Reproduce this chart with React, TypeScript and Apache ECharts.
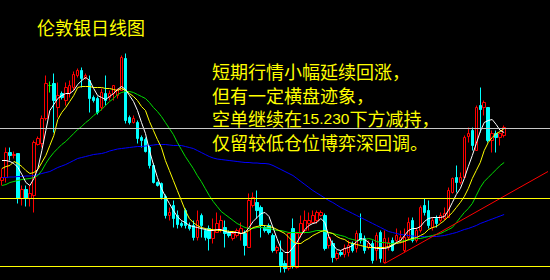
import React, { useEffect, useRef } from "react";
import * as echarts from "echarts";

// Daily silver (London) candles, oldest first: open, close, low, high
const opens = [
  14.71, 14.74, 14.99, 14.96, 14.98, 14.53, 14.62, 14.53, 14.56, 15.07,
  15.08, 15.33, 15.66, 15.68, 15.44, 15.58, 15.51, 15.58, 15.64, 15.76,
  15.81, 15.74, 15.71, 15.54, 15.53, 15.44, 15.58, 15.54, 15.58, 15.56,
  15.61, 15.93, 15.34, 15.29, 15.29, 15.14, 15.12, 15.04, 14.86, 14.69,
  14.68, 14.55, 14.36, 14.46, 14.36, 14.28, 14.41, 14.26, 14.26, 14.14,
  14.36, 14.21, 14.23, 14.13, 14.19, 14.21, 14.24, 14.19, 14.13, 14.16,
  14.18, 14.18, 14.04, 14.46, 14.49, 14.44, 14.24, 14.26, 14.16, 14.01,
  13.99, 13.88, 13.83, 14.23, 13.84, 14.18, 14.21, 14.28, 14.29, 14.31,
  14.36, 14.36, 14.06, 14.08, 13.93, 13.99, 13.97, 13.99, 14.08, 14.03,
  14.18, 14.13, 14.04, 14.08, 14.01, 14.19, 13.89, 14.04, 14.11, 14.11,
  14.11, 14.01, 14.14, 14.31, 14.11, 14.21, 14.46, 14.41, 14.24, 14.33,
  14.31, 14.33, 14.34, 14.59, 14.74, 14.69, 14.74, 15.15, 15.21, 15.01,
  15.46, 15.44, 15.44, 15.11, 15.18, 15.14, 15.16,
];
const closes = [
  14.74, 14.99, 14.96, 14.97, 14.53, 14.62, 14.53, 14.58, 15.09, 15.13,
  15.33, 15.68, 15.66, 15.51, 15.56, 15.54, 15.64, 15.66, 15.77, 15.81,
  15.73, 15.76, 15.53, 15.51, 15.39, 15.59, 15.51, 15.58, 15.66, 15.62,
  15.94, 15.31, 15.29, 15.33, 15.13, 15.11, 15.0, 14.86, 14.69, 14.66,
  14.54, 14.36, 14.39, 14.33, 14.27, 14.26, 14.26, 14.23, 14.14, 14.31,
  14.26, 14.14, 14.13, 14.21, 14.28, 14.31, 14.18, 14.16, 14.18, 14.21,
  14.23, 14.06, 14.51, 14.54, 14.41, 14.26, 14.21, 14.19, 14.01, 14.04,
  13.86, 13.83, 14.18, 13.86, 14.18, 14.28, 14.31, 14.31, 14.36, 14.39,
  14.39, 14.03, 14.14, 13.94, 13.98, 13.97, 14.03, 14.06, 14.01, 14.18,
  14.11, 14.01, 14.08, 13.91, 14.16, 13.93, 14.13, 14.09, 14.01, 14.16,
  14.14, 14.14, 14.29, 14.11, 14.21, 14.44, 14.39, 14.26, 14.31, 14.28,
  14.36, 14.38, 14.61, 14.73, 14.69, 14.74, 15.14, 15.18, 15.06, 15.44,
  15.42, 15.49, 15.11, 15.18, 15.14, 15.18, 15.24,
];
const lows = [
  14.66, 14.69, 14.91, 14.93, 14.48, 14.46, 14.45, 14.45, 14.39, 15.06,
  15.04, 15.31, 15.59, 15.19, 15.34, 15.52, 15.46, 15.54, 15.61, 15.74,
  15.64, 15.72, 15.39, 15.49, 15.37, 15.41, 15.46, 15.51, 15.51, 15.53,
  15.61, 15.28, 15.27, 15.28, 15.08, 15.04, 14.99, 14.83, 14.68, 14.65,
  14.52, 14.33, 14.31, 14.24, 14.23, 14.24, 14.23, 14.21, 14.11, 14.11,
  14.14, 14.11, 14.01, 14.08, 14.19, 14.19, 14.04, 14.14, 14.11, 14.14,
  14.11, 13.96, 14.04, 14.44, 14.33, 14.14, 14.19, 14.17, 13.99, 13.98,
  13.79, 13.79, 13.81, 13.83, 13.83, 14.14, 14.18, 14.21, 14.28, 14.28,
  14.35, 14.01, 14.03, 13.89, 13.91, 13.95, 13.94, 13.95, 13.99, 13.99,
  14.08, 13.98, 14.02, 13.88, 13.91, 13.89, 13.88, 14.01, 14.0, 14.08,
  14.08, 13.99, 14.11, 14.09, 14.09, 14.19, 14.36, 14.23, 14.21, 14.24,
  14.29, 14.31, 14.34, 14.58, 14.59, 14.67, 14.74, 15.09, 15.01, 15.01,
  15.19, 15.36, 15.09, 14.99, 14.99, 15.06, 15.14,
];
const highs = [
  14.83, 15.04, 15.04, 15.0, 14.98, 14.66, 14.66, 14.66, 15.11, 15.15,
  15.36, 15.76, 15.7, 15.78, 15.69, 15.6, 15.69, 15.71, 15.8, 15.83,
  15.84, 15.78, 15.76, 15.56, 15.55, 15.63, 15.76, 15.61, 15.66, 15.63,
  15.96, 15.98, 15.36, 15.36, 15.31, 15.16, 15.14, 15.06, 14.88, 14.7,
  14.69, 14.57, 14.44, 14.51, 14.41, 14.3, 14.43, 14.29, 14.31, 14.41,
  14.38, 14.23, 14.26, 14.33, 14.39, 14.36, 14.31, 14.21, 14.2, 14.23,
  14.29, 14.21, 14.58, 14.59, 14.61, 14.46, 14.26, 14.28, 14.18, 14.06,
  14.11, 13.91, 14.19, 14.33, 14.19, 14.36, 14.41, 14.39, 14.41, 14.41,
  14.41, 14.38, 14.18, 14.11, 14.01, 14.01, 14.07, 14.11, 14.1, 14.21,
  14.38, 14.16, 14.11, 14.11, 14.19, 14.21, 14.21, 14.14, 14.14, 14.23,
  14.21, 14.23, 14.34, 14.34, 14.24, 14.46, 14.53, 14.51, 14.34, 14.36,
  14.39, 14.44, 14.64, 14.74, 14.86, 14.79, 15.16, 15.24, 15.24, 15.46,
  15.64, 15.51, 15.44, 15.21, 15.21, 15.19, 15.26,
];
// Session with open equal to close, drawn as a green cross
const dojiSessions = [12];

// Moving averages, one value per session
const maFast = [
  14.91, 14.91, 14.9, 14.88, 14.84, 14.77, 14.69, 14.66, 14.73, 14.83,
  15.01, 15.21, 15.41, 15.47, 15.53, 15.56, 15.58, 15.58, 15.61, 15.67,
  15.71, 15.74, 15.71, 15.63, 15.56, 15.54, 15.52, 15.55, 15.58, 15.62,
  15.65, 15.62, 15.56, 15.5, 15.41, 15.29, 15.18, 15.01, 14.87, 14.74,
  14.63, 14.55, 14.48, 14.41, 14.35, 14.31, 14.29, 14.26, 14.25, 14.24,
  14.23, 14.22, 14.21, 14.21, 14.22, 14.22, 14.2, 14.19, 14.19, 14.19,
  14.18, 14.19, 14.24, 14.3, 14.34, 14.38, 14.39, 14.35, 14.24, 14.13,
  14.03, 13.99, 13.99, 14.04, 14.09, 14.16, 14.22, 14.26, 14.28, 14.29,
  14.33, 14.29, 14.15, 14.07, 14.02, 14.01, 14.03, 14.04, 14.06, 14.1,
  14.13, 14.12, 14.09, 14.04, 14.03, 14.03, 14.03, 14.04, 14.06, 14.09,
  14.11, 14.16, 14.21, 14.23, 14.23, 14.25, 14.3, 14.33, 14.34, 14.34,
  14.34, 14.35, 14.41, 14.49, 14.57, 14.63, 14.73, 14.85, 14.96, 15.08,
  15.2, 15.29, 15.31, 15.32, 15.27, 15.21, 15.19,
];
const maMid = [
  14.83, 14.85, 14.86, 14.9, 14.88, 14.85, 14.81, 14.78, 14.79, 14.82,
  14.89, 14.96, 15.06, 15.16, 15.32, 15.39, 15.44, 15.5, 15.56, 15.64,
  15.65, 15.65, 15.65, 15.64, 15.64, 15.64, 15.63, 15.63, 15.62, 15.61,
  15.63, 15.61, 15.58, 15.55, 15.51, 15.45, 15.41, 15.3, 15.21, 15.12,
  15.04, 14.91, 14.81, 14.71, 14.61, 14.51, 14.41, 14.33, 14.29, 14.26,
  14.24, 14.23, 14.22, 14.22, 14.21, 14.21, 14.21, 14.2, 14.2, 14.19,
  14.18, 14.19, 14.21, 14.24, 14.25, 14.26, 14.26, 14.25, 14.24, 14.22,
  14.2, 14.18, 14.14, 14.1, 14.08, 14.08, 14.11, 14.13, 14.16, 14.18,
  14.2, 14.21, 14.19, 14.18, 14.15, 14.13, 14.12, 14.09, 14.08, 14.07,
  14.06, 14.05, 14.04, 14.04, 14.04, 14.04, 14.04, 14.05, 14.07, 14.08,
  14.09, 14.1, 14.12, 14.13, 14.14, 14.16, 14.18, 14.22, 14.24, 14.25,
  14.28, 14.31, 14.35, 14.39, 14.44, 14.49, 14.55, 14.63, 14.73, 14.81,
  14.89, 15.01, 15.09, 15.14, 15.18, 15.2, 15.23,
];
const maSlow = [
  14.66, 14.67, 14.69, 14.7, 14.71, 14.72, 14.725, 14.73, 14.74, 14.76,
  14.81, 14.88, 14.94, 14.99, 15.03, 15.07, 15.1, 15.14, 15.18, 15.22,
  15.25, 15.29, 15.32, 15.36, 15.39, 15.42, 15.46, 15.5, 15.53, 15.57,
  15.59, 15.6, 15.6, 15.59, 15.57, 15.55, 15.53, 15.49, 15.44, 15.4,
  15.35, 15.29, 15.23, 15.17, 15.09, 15.02, 14.95, 14.89, 14.83, 14.76,
  14.7, 14.63, 14.56, 14.5, 14.45, 14.4, 14.37, 14.34, 14.31, 14.28,
  14.26, 14.24, 14.23, 14.23, 14.24, 14.24, 14.235, 14.23, 14.22, 14.21,
  14.21, 14.2, 14.19, 14.19, 14.19, 14.19, 14.19, 14.19, 14.2, 14.21,
  14.21, 14.2, 14.19, 14.18, 14.17, 14.16, 14.15, 14.13, 14.12, 14.11,
  14.11, 14.12, 14.13, 14.12, 14.1, 14.09, 14.09, 14.08, 14.08, 14.09,
  14.1, 14.11, 14.115, 14.12, 14.13, 14.13, 14.14, 14.15, 14.16, 14.17,
  14.18, 14.2, 14.22, 14.24, 14.29, 14.34, 14.39, 14.43, 14.48, 14.56,
  14.64, 14.7, 14.74, 14.78, 14.82, 14.86, 14.89,
];
const maLong = [
  14.74, 14.74, 14.745, 14.745, 14.75, 14.75, 14.755, 14.755, 14.76, 14.77,
  14.78, 14.79, 14.8, 14.82, 14.84, 14.855, 14.87, 14.89, 14.91, 14.93,
  14.94, 14.95, 14.96, 14.97, 14.975, 14.98, 14.99, 15.005, 15.015, 15.025,
  15.03, 15.035, 15.04, 15.045, 15.05, 15.05, 15.055, 15.06, 15.065, 15.07,
  15.07, 15.07, 15.065, 15.06, 15.06, 15.06, 15.05, 15.04, 15.03, 15.01,
  14.99, 14.97, 14.95, 14.935, 14.925, 14.92, 14.915, 14.91, 14.905, 14.9,
  14.895, 14.89, 14.89, 14.885, 14.885, 14.88, 14.88, 14.875, 14.86, 14.84,
  14.82, 14.8, 14.78, 14.76, 14.73, 14.7, 14.67, 14.64, 14.61, 14.585,
  14.56, 14.535, 14.51, 14.49, 14.465, 14.44, 14.42, 14.4, 14.38, 14.36,
  14.34, 14.32, 14.3, 14.28, 14.26, 14.24, 14.22, 14.2, 14.19, 14.18,
  14.17, 14.165, 14.16, 14.155, 14.15, 14.15, 14.15, 14.15, 14.15, 14.15,
  14.155, 14.16, 14.17, 14.18, 14.19, 14.205, 14.22, 14.23, 14.245, 14.26,
  14.28, 14.295, 14.31, 14.325, 14.34, 14.355, 14.37,
];

// Rising support line: [session, price]
const supportLine = [
  [96, 13.88],
  [137, 14.8],
];

// Horizontal levels
const resistanceLevel = 15.23;
const supportLevels = [14.53, 13.85];

const slotCount = 138;

const title = "伦敦银日线图";
const commentLines = [
  "短期行情小幅延续回涨，",
  "但有一定横盘迹象，",
  "空单继续在{n|15.230}下方减持，",
  "仅留较低仓位博弈深回调。",
];

const TEXT_YELLOW = "#ffff00";
const CJK = '"Noto Sans CJK SC", sans-serif';

export default function App() {
  const ref = useRef<HTMLDivElement>(null);

  useEffect(() => {
    if (!ref.current) return;
    const chart = echarts.init(ref.current, null, { renderer: "svg" });

    const slots = Array.from({ length: slotCount }, (_, i) => String(i));
    const candles = opens.map((o, i) => {
      const v = [o, closes[i], lows[i], highs[i]];
      if (dojiSessions.includes(i)) {
        return {
          value: v,
          itemStyle: { color: "#00ff00", borderColor: "#00ff00", color0: "#00ff00", borderColor0: "#00ff00" },
        };
      }
      return v;
    });

    const maLine = (data: number[], color: string) => ({
      type: "line",
      data,
      symbol: "none",
      smooth: false,
      silent: true,
      z: 3,
      lineStyle: { color, width: 1 },
    });

    chart.setOption({
      animation: false,
      backgroundColor: "#000000",
      grid: { left: -1, top: 0, width: slotCount * 4, height: 280 },
      xAxis: {
        type: "category",
        data: slots,
        boundaryGap: true,
        show: false,
      },
      yAxis: {
        type: "value",
        min: 13.715,
        max: 16.515,
        show: false,
        splitLine: { show: false },
      },
      series: [
        {
          type: "candlestick",
          data: candles,
          barWidth: 3,
          silent: true,
          z: 2,
          itemStyle: {
            color: "#000000",
            borderColor: "#ff0000",
            color0: "#00ffff",
            borderColor0: "#00ffff",
            borderWidth: 1,
          },
          markLine: {
            silent: true,
            symbol: ["none", "none"],
            label: { show: false },
            data: [
              { yAxis: resistanceLevel, lineStyle: { color: "#c8c8c8", width: 1, type: "solid" } },
              ...supportLevels.map((v) => ({
                yAxis: v,
                lineStyle: { color: "#ffff00", width: 1, type: "solid" },
              })),
            ],
          },
        },
        maLine(maLong, "#0000ff"),
        maLine(maSlow, "#00dd00"),
        maLine(maMid, "#ffff00"),
        maLine(maFast, "#ffffff"),
        {
          type: "line",
          data: supportLine,
          symbol: "none",
          silent: true,
          z: 3,
          lineStyle: { color: "#ff0000", width: 1 },
        },
      ],
      graphic: [
        {
          type: "text",
          x: 37,
          y: 27,
          z: 10,
          style: {
            text: title,
            fill: TEXT_YELLOW,
            fontFamily: CJK,
            fontSize: 18,
            verticalAlign: "middle",
          },
        },
        ...commentLines.map((line, i) => ({
          type: "text",
          x: 212,
          y: 71 + i * 23.5,
          z: 10,
          style: {
            text: line,
            fill: TEXT_YELLOW,
            fontFamily: CJK,
            fontSize: 18,
            verticalAlign: "middle",
            rich: {
              n: {
                fill: TEXT_YELLOW,
                fontFamily: '"Liberation Sans", Arial, sans-serif',
                fontSize: 15.5,
              },
            },
          },
        })),
      ],
    });

    return () => chart.dispose();
  }, []);

  return (
    <div
      ref={ref}
      style={{ position: "absolute", left: 0, top: 0, width: 550, height: 280, background: "#000" }}
    />
  );
}
